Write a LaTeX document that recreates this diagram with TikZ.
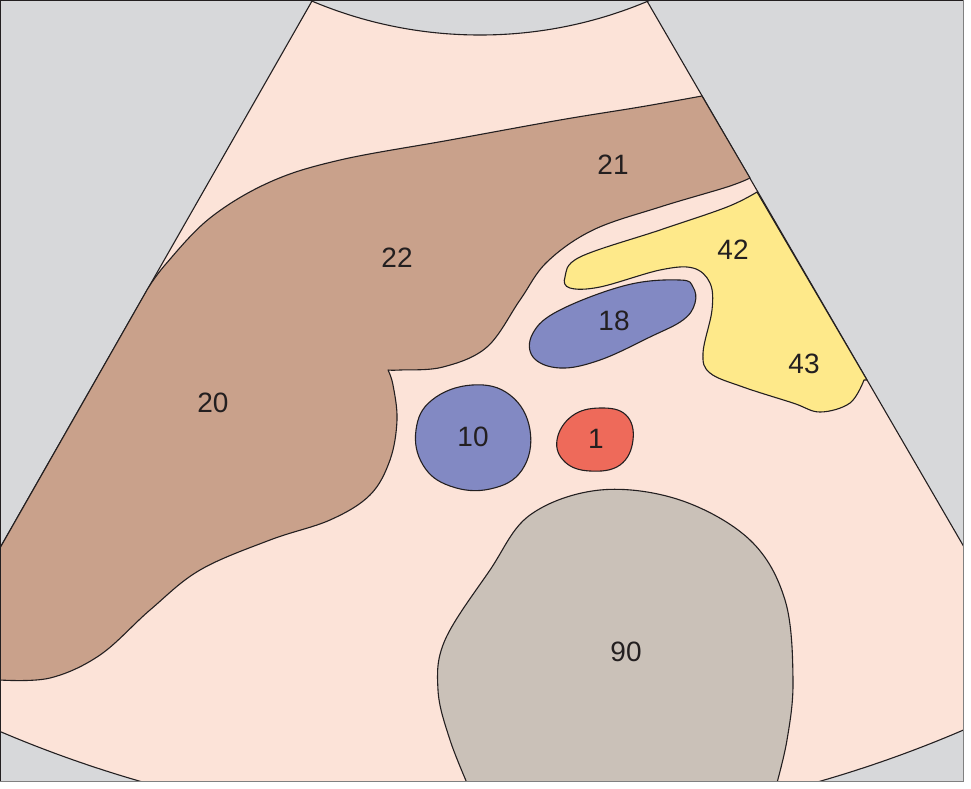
\documentclass[tikz,border=0pt]{standalone}
\usepackage{fontspec}
\setmainfont{Liberation Sans}
\definecolor{bgg}{HTML}{D7D8DA}
\definecolor{pk}{HTML}{FCE3D8}
\definecolor{br}{HTML}{C9A18B}
\definecolor{ye}{HTML}{FEE98A}
\definecolor{bl}{HTML}{8289C3}
\definecolor{rd}{HTML}{EE6A5A}
\definecolor{gy}{HTML}{CAC1B8}
\definecolor{tx}{HTML}{231F20}
\begin{document}
\begin{tikzpicture}[x=1pt,y=-1pt,
  organ/.style={draw=tx,line width=1.1pt,line join=round},
  lbl/.style={font=\fontsize{28}{30}\selectfont,text=tx,inner sep=0pt}]
\useasboundingbox (0,0) rectangle (971,788);
\fill[white] (0,0) rectangle (971,788);
\fill[bgg] (0,0) rectangle (963,781);
\begin{scope}
\clip (0,0) rectangle (963,781);
\fill[pk] (312,1) -- (647,1) -- (1169,900) -- (-201,900) -- cycle;
\filldraw[fill=bgg,organ] (480,-397) circle[radius=432];
\fill[bgg,even odd rule] (480,-397) circle[radius=1226] (-100,-100) rectangle (1100,1000);
\draw[organ] (480,-397) circle[radius=1226];
\draw[organ] (312,1) -- (-201,900);
\draw[organ] (647,1) -- (1169,900);
% liver
\filldraw[fill=br,organ] (0,548) -- (147,290)
  -- plot[smooth,tension=0.6] coordinates {(147,290) (165,265) (210,218) (270,182) (340,160) (450,140) (560,120) (640,107) (702,96)}
  -- (750,178)
  -- plot[smooth,tension=0.6] coordinates {(750,178) (727,187) (660,207) (593,230) (547,262) (520,300) (487,347) (443,367) (400,370) (388,370)}
  -- plot[smooth,tension=0.6] coordinates {(388,370) (393,385) (397,420) (390,460) (370,495) (330,520) (270,540) (200,570) (150,610) (100,655) (50,678) (0,680)}
  -- cycle;
% yellow
\filldraw[fill=ye,organ] (867,380) -- (757,192)
  -- plot[smooth,tension=0.6] coordinates {(757,192) (727,207) (660,230) (580,257) (565,277) (570,288) (600,287) (660,270) (693,268) (710,283) (712,310) (703,353) (710,373) (743,387) (793,403) (820,412) (850,403) (864,380)}
  -- cycle;
% 18
\filldraw[fill=bl,organ] plot[smooth cycle,tension=0.65] coordinates {(693,287) (680,280) (627,285) (560,310) (533,333) (533,357) (560,368) (600,360) (650,337) (683,320) (695,303)};
% 10
\filldraw[fill=bl,organ] plot[smooth cycle,tension=0.7] coordinates {(472,385) (510,395) (530,430) (522,470) (490,489) (450,486) (423,465) (416,430) (432,400)};
% 1
\filldraw[fill=rd,organ] plot[smooth cycle,tension=0.7] coordinates {(600,408) (626,415) (633,440) (620,465) (590,471) (565,462) (557,440) (572,416)};
% 90
\filldraw[fill=gy,organ] plot[smooth,tension=0.6] coordinates {(470,790) (450,740) (438,690) (445,640) (490,570) (530,515) (600,490) (680,500) (750,540) (785,600) (793,680) (787,740) (775,790)} -- cycle;
\end{scope}
\draw[gray,line width=1pt] (0,781) -- (963,781) -- (963,0);
\draw[tx,line width=1pt] (0,781) -- (0,0.5) -- (963,0.5);
\node[lbl] (l21) at (613,165) {21};
\node[lbl] (l22) at (397,258) {22};
\node[lbl] (l20) at (213,403) {20};
\node[lbl] (l42) at (733,250) {42};
\node[lbl] (l43) at (804,364) {43};
\node[lbl] (l18) at (614,321) {18};
\node[lbl] (l10) at (473,437) {10};
\node[lbl] (l1) at (596,439) {1};
\node[lbl] (l90) at (626,652) {90};
\end{tikzpicture}
\end{document}
